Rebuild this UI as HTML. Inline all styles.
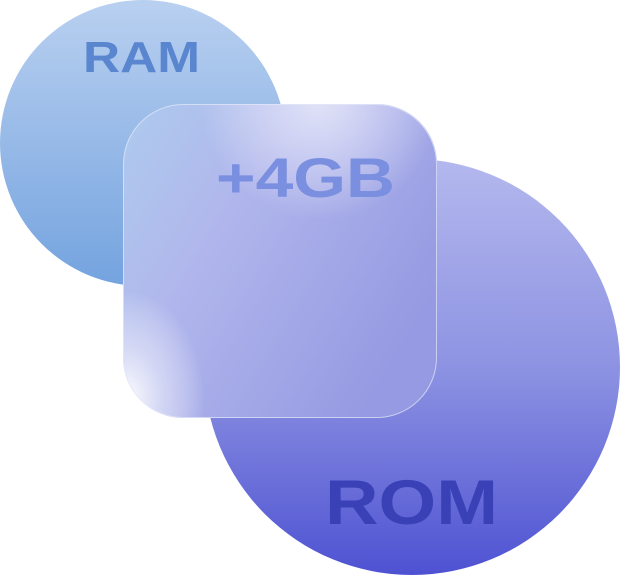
<!DOCTYPE html>
<html><head><style>html,body{margin:0;padding:0;background:#fff;width:620px;height:576px;overflow:hidden}</style></head>
<body>
<svg width="620" height="576" viewBox="0 0 620 576" xmlns="http://www.w3.org/2000/svg">
<defs>
<linearGradient id="ram" x1="0" y1="0" x2="0" y2="1">
<stop offset="0" stop-color="#b9d0f0"/><stop offset="1" stop-color="#74a3df"/></linearGradient>
<linearGradient id="rom" x1="0" y1="0" x2="0" y2="1">
<stop offset="0" stop-color="#b4b8ee"/><stop offset="0.5" stop-color="#8d93e2"/><stop offset="1" stop-color="#4e52d2"/></linearGradient>
<linearGradient id="sq" x1="0" y1="0" x2="1" y2="0.6">
<stop offset="0" stop-color="#aecbee"/><stop offset="0.4" stop-color="#b0b6ec"/><stop offset="1" stop-color="#959ae2"/></linearGradient>
<radialGradient id="glow" cx="125" cy="400" r="100" gradientTransform="translate(125 400) scale(0.8 1.1) translate(-125 -400)" gradientUnits="userSpaceOnUse">
<stop offset="0" stop-color="#ffffff" stop-opacity="1"/><stop offset="0.5" stop-color="#eef0fb" stop-opacity="0.55"/><stop offset="1" stop-color="#ffffff" stop-opacity="0"/></radialGradient>
<radialGradient id="glow2" cx="320" cy="100" r="120" gradientUnits="userSpaceOnUse">
<stop offset="0" stop-color="#f2f2fc" stop-opacity="0.75"/><stop offset="1" stop-color="#ffffff" stop-opacity="0"/></radialGradient>
<clipPath id="c"><rect x="123" y="104" width="314" height="314" rx="60"/></clipPath>
</defs>
<circle cx="143" cy="143" r="143" fill="url(#ram)"/>
<circle cx="412" cy="367" r="208" fill="url(#rom)"/>
<text x="83" y="72" textLength="117" lengthAdjust="spacingAndGlyphs" font-family="Liberation Sans, sans-serif" font-weight="bold" font-size="44" fill="#5a86cf">RAM</text>
<text x="325" y="524" textLength="173" lengthAdjust="spacingAndGlyphs" font-family="Liberation Sans, sans-serif" font-weight="bold" font-size="63" fill="#3a41b6">ROM</text>
<g clip-path="url(#c)">
<rect x="123" y="104" width="314" height="314" fill="url(#sq)"/>
<rect x="123" y="104" width="314" height="314" fill="url(#glow2)"/>
<rect x="123" y="104" width="314" height="314" fill="url(#glow)"/>
</g>
<rect x="123.5" y="104.5" width="313" height="313" rx="60" fill="none" stroke="#e4e8fa" stroke-opacity="0.7"/>
<text x="216" y="197" textLength="179" lengthAdjust="spacingAndGlyphs" font-family="Liberation Sans, sans-serif" font-weight="bold" font-size="56" fill="#7a8fdf">+4GB</text>
</svg>
</body></html>
